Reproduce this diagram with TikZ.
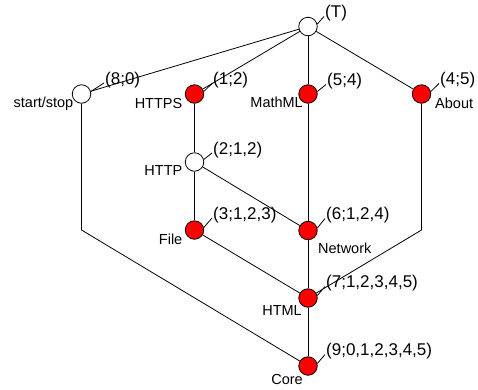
\documentclass[tikz,border=0pt]{standalone}
\usepackage{fontspec}
\setmainfont{Liberation Sans}
\begin{document}
\begin{tikzpicture}[x=1pt,y=-1pt,
  concept/.style={circle,draw,line width=0.8pt,minimum size=18.5pt,inner sep=0pt},
  full/.style={concept,fill=red},
  empty/.style={concept,fill=white},
  edge/.style={line width=0.8pt},
  leader/.style={line width=0.8pt},
  clab/.style={inner sep=0pt,font=\fontsize{17}{20}\selectfont},
  nlab/.style={inner sep=0pt,font=\fontsize{14.5}{17}\selectfont}]
\useasboundingbox (0,0) rectangle (478,389);
% corner points
\coordinate (ssb) at (81.5,230);
\coordinate (abb) at (421.5,230);
% edges
\begin{scope}[edge]
\draw (308,26.5) coordinate (Tc);
\end{scope}
\node[empty] (T) at (308,26.5) {};
\node[empty] (ss) at (81.5,94) {};
\node[full] (https) at (194.5,94) {};
\node[full] (mathml) at (308,94) {};
\node[full] (about) at (421.5,94) {};
\node[empty] (http) at (194.5,162) {};
\node[full] (file) at (194.5,230) {};
\node[full] (net) at (308,230.5) {};
\node[full] (html) at (308,298) {};
\node[full] (core) at (308,366) {};
\begin{scope}[on background layer/.style={}]
\draw[edge] (T) -- (ss);
\draw[edge] (T) -- (https);
\draw[edge] (T) -- (mathml);
\draw[edge] (T) -- (about);
\draw[edge] (https) -- (http);
\draw[edge] (http) -- (file);
\draw[edge] (http) -- (net);
\draw[edge] (mathml) -- (net);
\draw[edge] (file) -- (html);
\draw[edge] (net) -- (html);
\draw[edge] (about) -- (abb) -- (html);
\draw[edge] (ss) -- (ssb) -- (core);
\draw[edge] (html) -- (core);
\end{scope}
% coordinate labels
\node[clab,anchor=west] (Tl) at (325,13.5) {(T)};
\node[clab,anchor=west] (ssl) at (105,80) {(8;0)};
\node[clab,anchor=west] (httpsl) at (213,80.5) {(1;2)};
\node[clab,anchor=west] (mathmll) at (327,81.5) {(5;4)};
\node[clab,anchor=west] (aboutl) at (440,80.5) {(4;5)};
\node[clab,anchor=west] (httpl) at (213,150) {(2;1,2)};
\node[clab,anchor=west] (filel) at (213,215) {(3;1,2,3)};
\node[clab,anchor=west] (netl) at (326,215.5) {(6;1,2,4)};
\node[clab,anchor=west] (htmll) at (326,283.5) {(7;1,2,3,4,5)};
\node[clab,anchor=west] (corel) at (326,351.5) {(9;0,1,2,3,4,5)};
\foreach \n in {T,ss,https,mathml,about,http,file,net,html,core}
  \draw[leader] (\n.15) -- ([shift={(-1,3)}]\n l.west);
% name labels
\node[nlab,anchor=east] (ssn) at (73.5,103.5) {start/stop};
\node[nlab,anchor=east] (httpsn) at (182.5,103.5) {HTTPS};
\node[nlab,anchor=east] (mathmln) at (303,102.5) {MathML};
\node[nlab,anchor=west] (aboutn) at (435,103.5) {About};
\node[nlab,anchor=east] (httpn) at (182.5,171) {HTTP};
\node[nlab,anchor=east] (filen) at (182.5,239.5) {File};
\node[nlab,anchor=west] (netn) at (318,248) {Network};
\node[nlab,anchor=east] (htmln) at (302,310.5) {HTML};
\node[nlab,anchor=east] (coren) at (303,379) {Core};
\end{tikzpicture}
\end{document}
